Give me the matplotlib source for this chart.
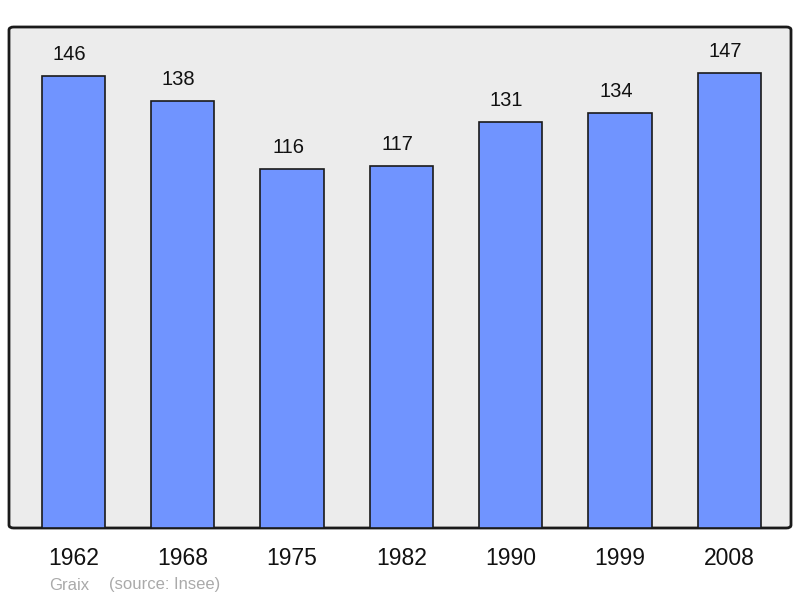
import matplotlib.pyplot as plt
from matplotlib.patches import FancyBboxPatch

years = ["1962", "1968", "1975", "1982", "1990", "1999", "2008"]
population = [146, 138, 116, 117, 131, 134, 147]

plt.rcParams['font.family'] = ['Liberation Sans', 'DejaVu Sans']

fig = plt.figure(figsize=(8, 5.98), dpi=100)
ax = fig.add_axes([9 / 800, 70 / 598, 782 / 800, 501 / 598])
ax.set_xlim(-0.59, 6.565)
ax.set_ylim(0, 161.8)
ax.set_facecolor('none')
for s in ax.spines.values():
    s.set_visible(False)

# background frame with rounded corners
frame = FancyBboxPatch((0, 0), 1, 1, boxstyle="round,pad=0,rounding_size=0.006",
                       transform=ax.transAxes, facecolor='#ececec',
                       edgecolor='#1a1a1a', linewidth=2, zorder=0, clip_on=False)
ax.add_patch(frame)

x = range(len(years))
ax.bar(x, population, width=0.578, color='#7094ff', edgecolor='#1a1a1a',
       linewidth=1.2, zorder=2)
for i, v in zip(x, population):
    ax.text(i - 0.037, v + 7, str(v), ha='center', va='center', fontsize=14.5, color='#111111')

ax.set_xticks(list(x))
ax.set_xticklabels(years, fontsize=16.5, color='#111111')
ax.tick_params(axis='x', length=0, pad=14)
ax.set_yticks([])

fig.text(49 / 800, 1 - 585 / 598, "Graix", fontsize=12, color='#aaaaaa', va='center')
fig.text(109 / 800, 1 - 585 / 598, "(source: Insee)", fontsize=12, color='#aaaaaa', va='center')

fig.savefig('out.png', dpi=100)
